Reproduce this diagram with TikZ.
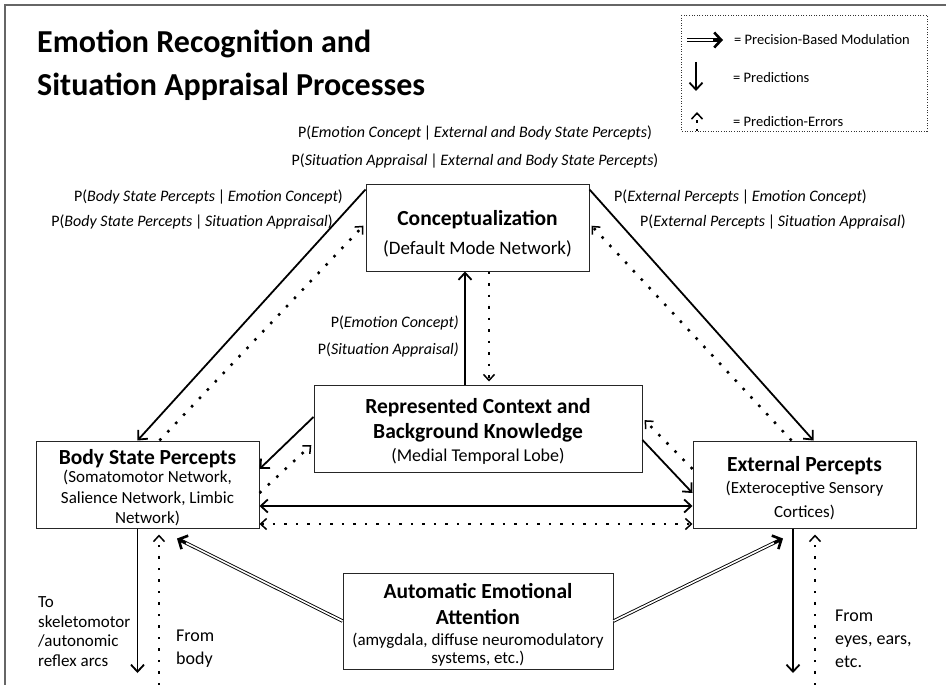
\documentclass[tikz,border=0pt]{standalone}
\usepackage{fontspec}
\setmainfont{Carlito}
\usetikzlibrary{arrows.meta,calc}
\begin{document}
\begin{tikzpicture}[x=1pt,y=-1pt,
  box/.style={draw=black!85,line width=1pt,fill=white,inner sep=0pt},
  hd/.style={inner sep=0pt,anchor=base,font=\fontsize{21.5}{26}\selectfont\bfseries},
  sb/.style={inner sep=0pt,anchor=base,font=\fontsize{17}{20}\selectfont},
  lbl/.style={inner sep=0pt,font=\fontsize{16}{19}\selectfont},
  lgd/.style={inner sep=0pt,anchor=west,font=\fontsize{14.5}{17}\selectfont},
  note/.style={inner sep=0pt,align=left,anchor=west},
  pred/.style={line width=1.8pt,-{Straight Barb[length=7pt,width=13pt]}},
  predboth/.style={line width=1.8pt,{Straight Barb[length=7pt,width=13pt]}-{Straight Barb[length=7pt,width=13pt]}},
  dots/.style={line width=2.5pt,dash pattern=on 2.5pt off 9pt},
  perr/.style={dots,shorten >=3pt,
    -{Straight Barb[length=6pt,width=11pt,line width=1.5pt]}},
  perrboth/.style={dots,
    {Straight Barb[length=6pt,width=11pt,line width=1.5pt]}-{Straight Barb[length=6pt,width=11pt,line width=1.5pt]}},
  modl/.style={draw=black,double=white,line width=0.9pt,double distance=1.6pt},
  modhead/.style={line width=2.6pt,-{Straight Barb[length=7pt,width=15pt]}},
]
\useasboundingbox[fill=white] (0,0) rectangle (946,685);
% frame
\draw[black!60,line width=1.6pt] (5,685) -- (5,5) -- (946,5);

% title
\node[inner sep=0pt,anchor=west,align=left,font=\fontsize{32}{43}\selectfont\bfseries] (title)
  at (37,65) {Emotion Recognition and\\Situation Appraisal Processes};

% legend
\draw[black!80,line width=0.9pt,dash pattern=on 1pt off 1.6pt] (681,15) rectangle (927,131);
\coordinate (lgA1) at (687,40); \coordinate (lgA2) at (723,40);
\draw[modl] (lgA1) -- ($(lgA2)!3pt!(lgA1)$);
\draw[modhead] ($(lgA2)!10pt!(lgA1)$) -- (lgA2);
\node[lgd] (lgAt) at (734,40) {= Precision-Based Modulation};
\coordinate (lgB1) at (696,62); \coordinate (lgB2) at (696,91);
\draw[pred] (lgB1) -- (lgB2);
\node[lgd] (lgBt) at (733,78) {= Predictions};
\coordinate (lgC1) at (697,131); \coordinate (lgC2) at (697,112);
\draw[perr,shorten >=0pt,dash pattern=on 2.5pt off 6pt] (lgC1) -- (lgC2);
\node[lgd] (lgCt) at (733,122) {= Prediction-Errors};

% boxes
\node[box,minimum width=223pt,minimum height=87pt] (conc) at (477.5,227.5) {};
\node[box,minimum width=328pt,minimum height=87pt] (rep) at (478,428.5) {};
\node[box,minimum width=223pt,minimum height=87pt] (body) at (147.5,484.5) {};
\node[box,minimum width=223pt,minimum height=87pt] (ext) at (804.5,484.5) {};
\node[box,minimum width=270pt,minimum height=96pt] (auto) at (478,621) {};

% box texts
\node[hd] (concT) at (477.5,225.5) {Conceptualization};
\node[sb,font=\fontsize{19}{22}\selectfont] (concS) at (477.5,254) {(Default Mode Network)};

\node[hd] (repT1) at (478,413.5) {Represented Context and};
\node[hd] (repT2) at (478,438.5) {Background Knowledge};
\node[sb,font=\fontsize{18}{21}\selectfont] (repS) at (478,461.5) {(Medial Temporal Lobe)};

\node[hd] (bodyT) at (147.5,464.5) {Body State Percepts};
\node[sb] (bodyS1) at (147.5,482.5) {(Somatomotor Network,};
\node[sb] (bodyS2) at (147.5,503) {Salience Network, Limbic};
\node[sb] (bodyS3) at (147.5,523) {Network)};

\node[hd] (extT) at (804.5,471.5) {External Percepts};
\node[sb] (extS1) at (804.5,493.5) {(Exteroceptive Sensory};
\node[sb] (extS2) at (804.5,517) {Cortices)};

\node[hd] (autoT1) at (478,598.5) {Automatic Emotional};
\node[hd] (autoT2) at (478,624.5) {Attention};
\node[sb] (autoS1) at (478,645.5) {(amygdala, diffuse neuromodulatory};
\node[sb] (autoS2) at (478,663.5) {systems, etc.)};

% probability labels
\node[lbl] (pTop1) at (475,133) {P(\textit{Emotion Concept}\,|\,\textit{External and Body State Percepts})};
\node[lbl] (pTop2) at (475,161) {P(\textit{Situation Appraisal}\,|\,\textit{External and Body State Percepts})};
\node[lbl,anchor=east] (pL1) at (343,197) {P(\textit{Body State Percepts}\,|\,\textit{Emotion Concept})};
\node[lbl,anchor=east] (pL2) at (333,222) {P(\textit{Body State Percepts}\,|\,\textit{Situation Appraisal})};
\node[lbl,anchor=west] (pR1) at (614,197) {P(\textit{External Percepts}\,|\,\textit{Emotion Concept})};
\node[lbl,anchor=west] (pR2) at (640,222) {P(\textit{External Percepts}\,|\,\textit{Situation Appraisal})};
\node[lbl,anchor=east] (pC1) at (459,323) {P(\textit{Emotion Concept)}};
\node[lbl,anchor=east] (pC2) at (459,350) {P(\textit{Situation Appraisal)}};

% conceptualization <-> body / external
\draw[pred] ([yshift=-6pt]conc.north west) -- ([xshift=-10pt]body.north);
\draw[perr] ([xshift=12pt]body.north) -- ([yshift=4pt]conc.west);
\draw[pred] ([yshift=-6pt]conc.north east) -- ([xshift=9pt]ext.north);
\draw[perr] ([xshift=-13pt]ext.north) -- ([yshift=4pt]conc.east);

% conceptualization <-> context
\coordinate (repUp) at ([xshift=-13pt]rep.north);
\coordinate (concDn) at ([xshift=11.5pt]conc.south);
\draw[pred] (repUp) -- (repUp |- conc.south);
\draw[perr] (concDn) -- (concDn |- rep.north);

% context <-> body / external
\draw[pred] ([yshift=11.5pt]rep.west) -- ([yshift=15.5pt]body.east);
\draw[perr] ([yshift=-8.5pt]body.east) -- ([yshift=-14.5pt]rep.west);
\draw[pred] ([yshift=-11.5pt]rep.east) -- ([yshift=-8.5pt]ext.west);
\draw[perr] ([yshift=15.5pt]ext.west) -- ([yshift=10.5pt]rep.east);

% body <-> external
\draw[predboth] ([yshift=-21.5pt]body.east) -- ([yshift=-21.5pt]ext.west);
\draw[perrboth] ([yshift=-39.5pt]body.east) -- ([yshift=-39.5pt]ext.west);

% inputs and outputs at the bottom
\coordinate (bodyOut) at (137.5,673);
\coordinate (bodyIn) at (159,685);
\coordinate (extOut) at (793,673);
\coordinate (extIn) at (815,685);
\draw[pred] ([xshift=-10pt]body.south) -- (bodyOut);
\draw[perr,shorten >=6pt] (bodyIn) -- (bodyIn |- body.south);
\draw[pred] ([xshift=-11.5pt]ext.south) -- (extOut);
\draw[perr,shorten >=6pt] (extIn) -- (extIn |- ext.south);

\node[note,font=\fontsize{17}{19.5}\selectfont] (toReflex) at (38,631.5) {To\\skeletomotor\\/autonomic\\reflex arcs};
\node[note,font=\fontsize{18}{23}\selectfont] (fromBody) at (176,648.5) {From\\body};
\node[note,font=\fontsize{18}{23}\selectfont] (fromEyes) at (835,638.5) {From\\eyes, ears,\\etc.};

% precision-based modulation from automatic attention
\coordinate (modB) at ([xshift=29.5pt,yshift=-10pt]body.south);
\coordinate (modE) at ([xshift=-21.5pt,yshift=-10pt]ext.south);
\draw[modl] (auto.west) -- ($(modB)!3pt!(auto.west)$);
\draw[modhead] ($(modB)!10pt!(auto.west)$) -- (modB);
\draw[modl] (auto.east) -- ($(modE)!3pt!(auto.east)$);
\draw[modhead] ($(modE)!10pt!(auto.east)$) -- (modE);
\end{tikzpicture}
\end{document}
